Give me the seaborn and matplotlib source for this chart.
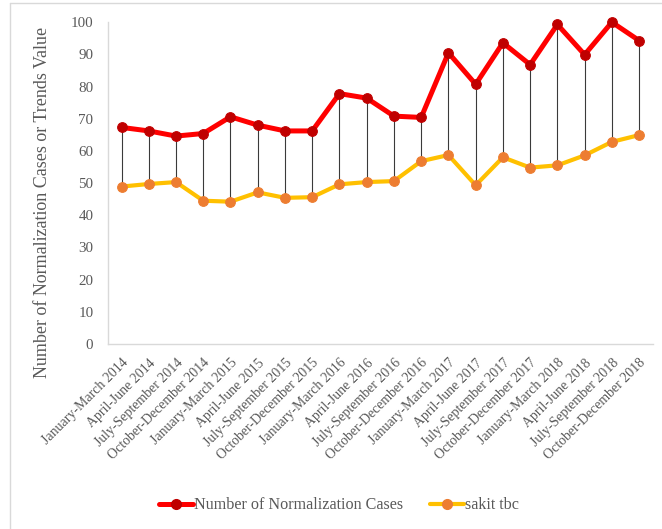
import matplotlib
matplotlib.use("Agg")
import matplotlib.pyplot as plt
from matplotlib.lines import Line2D
import numpy as np
import pandas as pd
import seaborn as sns

# Quarterly periods
periods = [
    "January-March 2014", "April-June 2014", "July-September 2014", "October-December 2014",
    "January-March 2015", "April-June 2015", "July-September 2015", "October-December 2015",
    "January-March 2016", "April-June 2016", "July-September 2016", "October-December 2016",
    "January-March 2017", "April-June 2017", "July-September 2017", "October-December 2017",
    "January-March 2018", "April-June 2018", "July-September 2018", "October-December 2018",
]

normalization_cases = [67.3, 66.2, 64.6, 65.4, 70.6, 68.0, 66.2, 66.2, 77.8, 76.4,
                       70.8, 70.4, 90.5, 80.7, 93.6, 86.8, 99.3, 89.9, 100.0, 94.3]
sakit_tbc = [48.9, 49.7, 50.3, 44.5, 44.2, 47.1, 45.4, 45.6, 49.6, 50.3,
             50.6, 56.8, 58.7, 49.3, 58.0, 54.8, 55.5, 58.6, 62.8, 64.9]

series_names = ["Number of Normalization Cases", "sakit tbc"]
y_ticks = [0, 10, 20, 30, 40, 50, 60, 70, 80, 90, 100]

sns.set_theme(style="white")
plt.rcParams["font.family"] = ["Liberation Serif", "DejaVu Serif"]

TEXT = "#595959"
AXIS = "#d9d9d9"
RED, DARK_RED = "#ff0000", "#c00000"
GOLD, ORANGE = "#ffc000", "#ed7d31"

df = pd.DataFrame({"x": np.arange(len(periods)),
                   "cases": normalization_cases,
                   "tbc": sakit_tbc})

fig = plt.figure(figsize=(6.62, 5.29), dpi=100)
ax = fig.add_axes([0.163, 0.350, 0.823, 0.608])

# Drop lines connecting the two series at each quarter
ax.vlines(df["x"], df["tbc"], df["cases"], colors="#3a3a3a", linewidth=0.8, zorder=1)

sns.lineplot(data=df, x="x", y="cases", ax=ax, color=RED, linewidth=3.6,
             marker="o", markersize=7, markerfacecolor=DARK_RED,
             markeredgecolor=DARK_RED, zorder=3, clip_on=False)
sns.lineplot(data=df, x="x", y="tbc", ax=ax, color=GOLD, linewidth=3.0,
             marker="o", markersize=7, markerfacecolor=ORANGE,
             markeredgecolor=ORANGE, zorder=3, clip_on=False)

ax.set_xlim(-0.5, len(periods) - 0.5)
ax.set_ylim(0, 100)
ax.set_yticks(y_ticks)
ax.set_yticklabels([str(v) for v in y_ticks], fontsize=10.8, color=TEXT)

# Category labels at centers, tick marks at category boundaries
ax.set_xticks(np.arange(len(periods)))
ax.set_xticklabels(periods, rotation=45, ha="right", rotation_mode="anchor",
                   fontsize=10, color=TEXT)
ax.set_xticks(np.arange(len(periods) + 1) - 0.5, minor=True)
ax.tick_params(axis="x", which="major", length=0, pad=9)
ax.tick_params(axis="x", which="minor", length=4, color=AXIS, width=1, direction="out")
ax.tick_params(axis="y", length=5.5, color=AXIS, width=1, direction="out", pad=5)

for side in ["top", "right"]:
    ax.spines[side].set_visible(False)
for side in ["left", "bottom"]:
    ax.spines[side].set_color(AXIS)
    ax.spines[side].set_linewidth(1)

ax.set_xlabel("")
ax.set_ylabel("Number of Normalization Cases or Trends Value", fontsize=13,
              color=TEXT)
ax.yaxis.set_label_coords(-0.1046, 0.441)

handles = [
    Line2D([0], [0], color=RED, linewidth=3.6, marker="o", markersize=7,
           markerfacecolor=DARK_RED, markeredgecolor=DARK_RED),
    Line2D([0], [0], color=GOLD, linewidth=3.0, marker="o", markersize=7,
           markerfacecolor=ORANGE, markeredgecolor=ORANGE),
]
fig.legend(handles, series_names, loc="center", bbox_to_anchor=(0.512, 0.045),
           ncol=2, frameon=False, fontsize=11.6, labelcolor=TEXT,
           handlelength=2.1, handletextpad=0.05, columnspacing=1.7)

# Chart frame edges
fig.add_artist(Line2D([10 / 662, 10 / 662], [0, 1 - 3 / 529], transform=fig.transFigure,
                      color="#d9d9d9", linewidth=1))
fig.add_artist(Line2D([10 / 662, 1], [1 - 3 / 529, 1 - 3 / 529], transform=fig.transFigure,
                      color="#d9d9d9", linewidth=1))

fig.savefig("out.png", dpi=100, facecolor="white")
